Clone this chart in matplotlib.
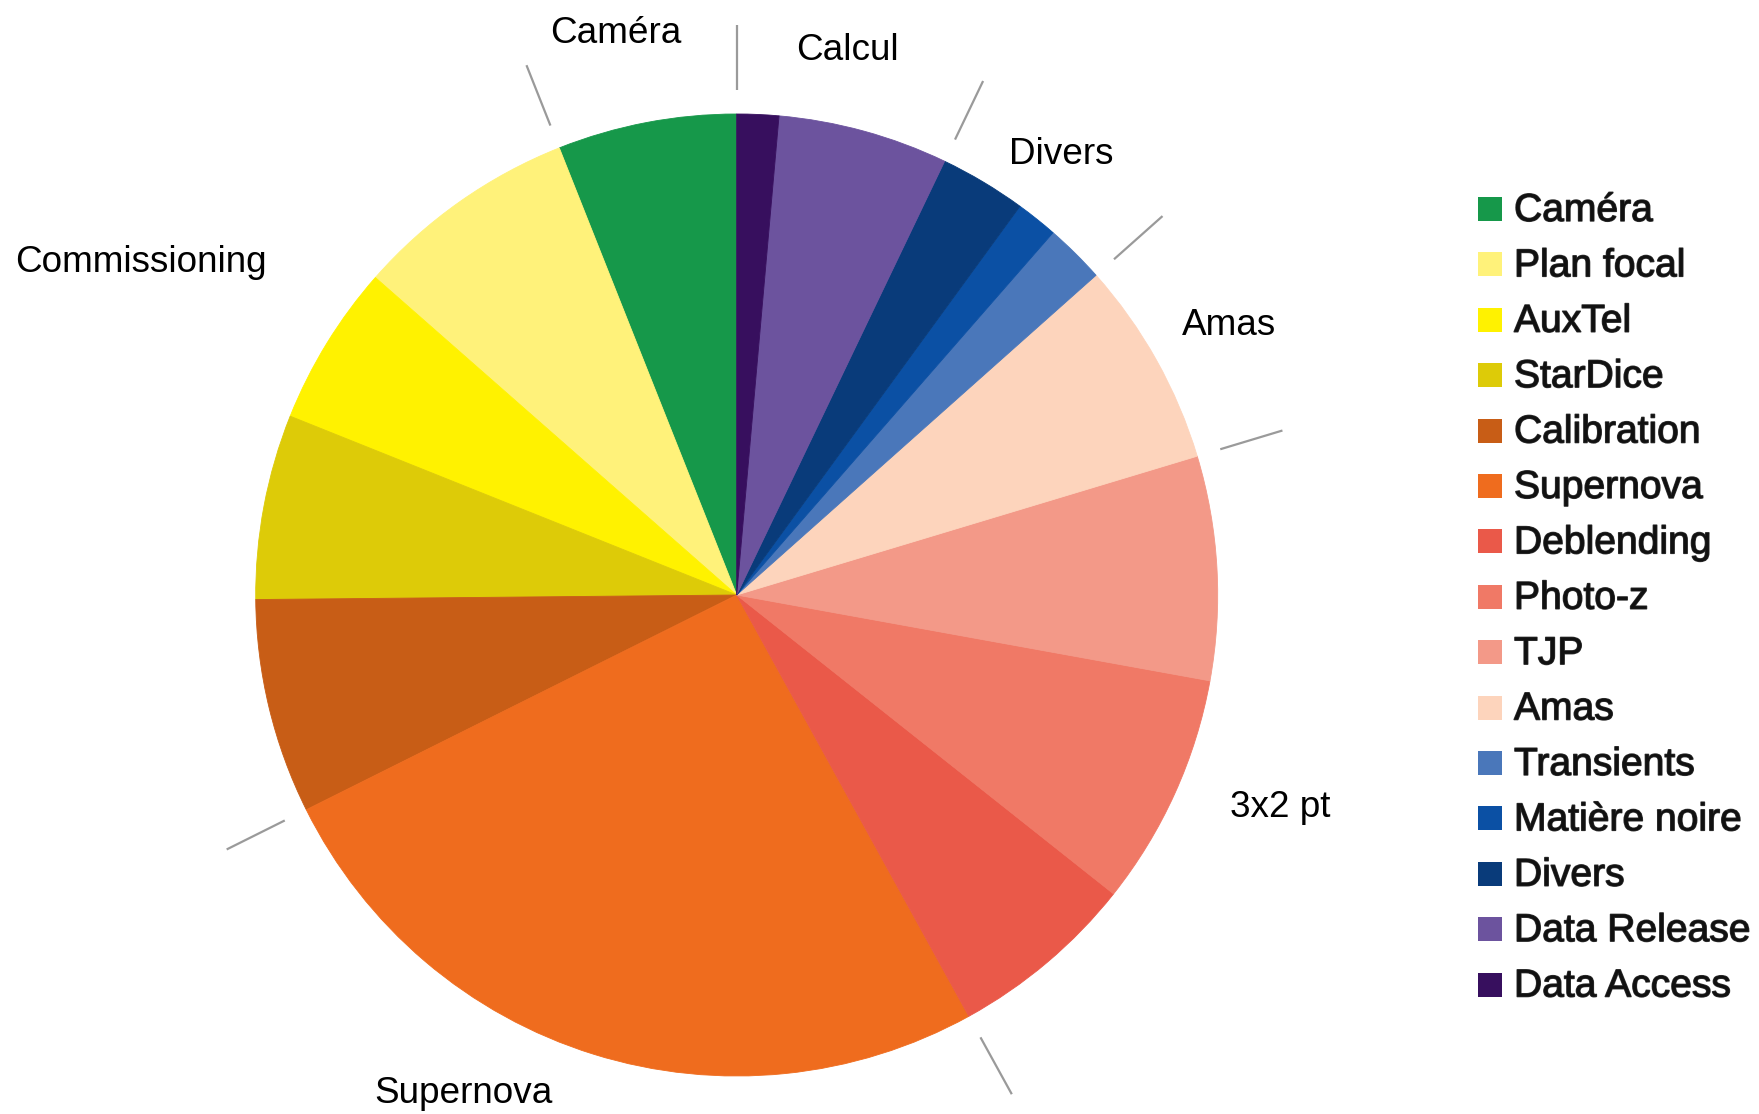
import numpy as np
import matplotlib
matplotlib.use("Agg")
import matplotlib.pyplot as plt
from matplotlib.patches import Rectangle
import matplotlib.patheffects as pe

# Topics (share of effort, %), drawn counter-clockwise from 12 o'clock
topics = ["Caméra", "Plan focal", "AuxTel", "StarDice", "Calibration",
          "Supernova", "Deblending", "Photo-z", "TJP", "Amas",
          "Transients", "Matière noire", "Divers", "Data Release", "Data Access"]
shares = [6.0, 7.5, 5.4, 6.2, 7.2,
          25.6, 6.3, 7.8, 7.5, 6.9,
          2.0, 1.4, 2.9, 5.7, 1.4]
colors = ["#16984A", "#FFF27A", "#FFF200", "#DDCB08", "#C85D16",
          "#EF6C1E", "#EA5949", "#F07966", "#F39988", "#FDD4BC",
          "#4A77BA", "#0B50A4", "#093B7A", "#6C539E", "#370F5E"]

# Thematic groups (number of consecutive topics in each)
groups = ["Caméra", "Commissioning", "Supernova", "3x2 pt", "Amas", "Divers", "Calcul"]
group_sizes = [1, 4, 1, 3, 1, 3, 2]

W, H = 1759, 1114
fig = plt.figure(figsize=(W / 100, H / 100), dpi=100)
ax = fig.add_axes([0, 0, 1, 1])

cx, cy, R = 736.7, H - 595.0, 481.0
wedges, _ = ax.pie(shares, colors=colors, startangle=90, counterclock=True,
                   center=(cx, cy), radius=R)
for w, c in zip(wedges, colors):
    w.set_edgecolor(c)
    w.set_linewidth(0.6)
ax.set_xlim(0, W)
ax.set_ylim(0, H)
ax.set_aspect("equal")
ax.axis("off")

# Separators between groups, just outside the disc
total = float(np.sum(shares))
cum = np.cumsum(shares) / total * 360.0
bounds = [0.0] + [cum[i - 1] for i in np.cumsum(group_sizes)[:-1]]
for b in bounds:
    a = np.deg2rad(90.0 + b)
    r0, r1 = 1.05 * R, 1.185 * R
    ax.plot([cx + r0 * np.cos(a), cx + r1 * np.cos(a)],
            [cy + r0 * np.sin(a), cy + r1 * np.sin(a)],
            color="#9a9a9a", lw=1.6, solid_capstyle="butt")

# Group labels around the pie (x, baseline y in pixels from top-left, alignment)
label_pos = {
    "Caméra": (616, 43, "center"),
    "Commissioning": (267, 272, "right"),
    "Supernova": (464, 1103, "center"),
    "3x2 pt": (1230, 817, "left"),
    "Amas": (1182, 335, "left"),
    "Divers": (1009, 164, "left"),
    "Calcul": (847, 60, "center"),
}
for g in groups:
    x, yb, ha = label_pos[g]
    ax.text(x, H - yb, g, ha=ha, va="baseline", fontsize=26.6,
            family="Liberation Sans", color="black")

# Legend drawn as a column of swatches
lx, ly0, dy, sq = 1478, 221, 55.4, 24
for i, (name, col) in enumerate(zip(topics, colors)):
    yb = ly0 + i * dy
    ax.add_patch(Rectangle((lx, H - yb), sq, sq, facecolor=col,
                           edgecolor="none"))
    ax.text(lx + sq + 12, H - yb, name, ha="left", va="baseline",
            fontsize=28.1, family="Liberation Sans", color="#111111",
            path_effects=[pe.withStroke(linewidth=1.0, foreground="#333333")])

fig.savefig("out.png", dpi=100)
